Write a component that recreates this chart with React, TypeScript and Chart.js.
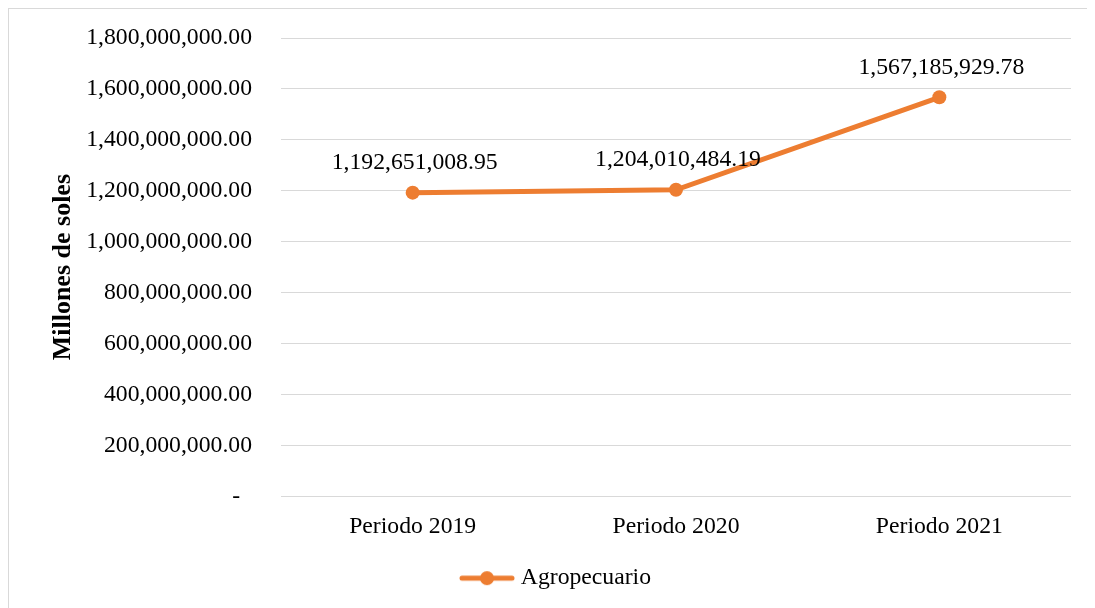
import React, { useEffect, useRef } from "react";
import { Chart, registerables } from "chart.js";

Chart.register(...registerables);

const categories: string[] = ["Periodo 2019", "Periodo 2020", "Periodo 2021"];
const agropecuario: number[] = [1192651008.95, 1204010484.19, 1567185929.78];
const seriesLabel = "Agropecuario";
const yAxisTitle = "Millones de soles";
const yMin = 0;
const yMax = 1800000000;
const yStep = 200000000;

const LINE_COLOR = "#ED7D31";
const GRID_COLOR = "#D9D9D9";
const FONT_FAMILY = "'Liberation Serif', 'Times New Roman', serif";
const FONT_SIZE = 23.7;

const fmt = (v: number) =>
  v.toLocaleString("en-US", { minimumFractionDigits: 2, maximumFractionDigits: 2 });

function makeLegendIcon(): HTMLCanvasElement {
  const c = document.createElement("canvas");
  c.width = 56;
  c.height = 16;
  const ctx = c.getContext("2d")!;
  ctx.strokeStyle = LINE_COLOR;
  ctx.lineWidth = 5;
  ctx.lineCap = "round";
  ctx.beginPath();
  ctx.moveTo(3, 8);
  ctx.lineTo(53, 8);
  ctx.stroke();
  ctx.fillStyle = LINE_COLOR;
  ctx.beginPath();
  ctx.arc(28, 8, 7, 0, Math.PI * 2);
  ctx.fill();
  return c;
}

const dataLabelPlugin = {
  id: "dataLabels",
  afterDatasetsDraw(chart: any) {
    const ctx = chart.ctx;
    const meta = chart.getDatasetMeta(0);
    const data = chart.data.datasets[0].data as number[];
    ctx.save();
    ctx.font = `${FONT_SIZE}px ${FONT_FAMILY}`;
    ctx.fillStyle = "#000000";
    ctx.textAlign = "center";
    ctx.textBaseline = "middle";
    meta.data.forEach((pt: any, i: number) => {
      ctx.fillText(fmt(data[i]), pt.x + 2, pt.y - 30);
    });
    ctx.restore();
  },
};

export default function App() {
  const canvasRef = useRef<HTMLCanvasElement | null>(null);

  useEffect(() => {
    document.documentElement.style.overflow = "hidden";
    document.body.style.overflow = "hidden";
    if (!canvasRef.current) return;
    const icon = makeLegendIcon();
    const chart = new Chart(canvasRef.current, {
      type: "line",
      data: {
        labels: categories,
        datasets: [
          {
            label: seriesLabel,
            data: agropecuario,
            borderColor: LINE_COLOR,
            backgroundColor: LINE_COLOR,
            borderWidth: 5,
            pointRadius: 7,
            pointHoverRadius: 7,
            pointBackgroundColor: LINE_COLOR,
            pointBorderColor: LINE_COLOR,
            pointBorderWidth: 0,
            tension: 0,
            fill: false,
          },
        ],
      },
      options: {
        animation: false,
        responsive: false,
        events: [],
        layout: { padding: { left: 36, right: 24, top: 29, bottom: 0 } },
        scales: {
          x: {
            offset: true,
            grid: { display: false, drawTicks: false },
            border: { display: false },
            ticks: {
              color: "#000000",
              font: { family: FONT_FAMILY, size: FONT_SIZE },
              padding: 16,
            },
            afterFit(scale: any) {
              scale.height = 60;
            },
          },
          y: {
            min: yMin,
            max: yMax,
            grid: { color: GRID_COLOR, lineWidth: 1, drawTicks: false },
            border: { display: false },
            ticks: {
              stepSize: yStep,
              color: "#000000",
              font: { family: FONT_FAMILY, size: FONT_SIZE },
              padding: 29,
              callback: (v: any) => (Number(v) === 0 ? "-  " : fmt(Number(v))),
            },
            title: {
              display: true,
              text: yAxisTitle,
              color: "#000000",
              font: { family: FONT_FAMILY, size: 26, weight: "bold" },
              padding: { top: 3, bottom: 0 },
            },
            afterFit(scale: any) {
              scale.width = 236;
              scale.paddingTop = 0;
              scale.paddingBottom = 0;
            },
          },
        },
        plugins: {
          legend: {
            display: true,
            position: "bottom",
            labels: {
              usePointStyle: true,
              pointStyleWidth: 44,
              color: "#000000",
              font: { family: FONT_FAMILY, size: FONT_SIZE },
              padding: 10,
              generateLabels: () => [
                {
                  text: seriesLabel,
                  pointStyle: icon as any,
                  fillStyle: LINE_COLOR,
                  strokeStyle: LINE_COLOR,
                  lineWidth: 0,
                  hidden: false,
                  datasetIndex: 0,
                  fontColor: "#000000",
                },
              ],
            },
          },
          tooltip: { enabled: false },
        },
      },
      plugins: [dataLabelPlugin],
    });
    return () => chart.destroy();
  }, []);

  return (
    <div
      style={{
        width: 1200,
        height: 700,
        borderTop: "1px solid #D9D9D9",
        borderLeft: "1px solid #D9D9D9",
        background: "#ffffff",
      }}
    >
      <canvas ref={canvasRef} width={1086} height={591} style={{ display: "block" }} />
    </div>
  );
}
